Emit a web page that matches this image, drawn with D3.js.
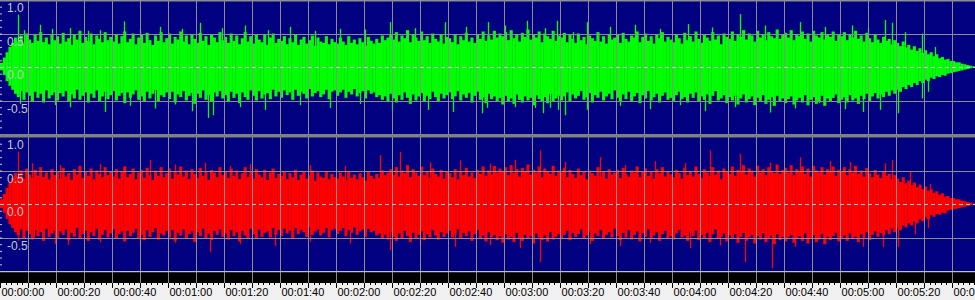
<!DOCTYPE html>
<html><head><meta charset="utf-8">
<script src="https://cdn.jsdelivr.net/npm/d3@7"></script>
<style>html,body{margin:0;padding:0;background:#f0f0f0;overflow:hidden}svg{display:block}</style>
</head><body><svg id="c" width="975" height="300"></svg>
<script>
// ---- data: per-second peak levels (percent of full scale), one value per second ----
const gMax=[6,14,22,30,36,44,38,47,35,50,41,36,48,39,52,37,44,34,49,40,
46,35,51,38,43,33,49,41,54,36,45,39,50,34,47,42,37,52,40,45,
38,49,35,46,53,37,42,50,34,44,48,36,51,40,33,47,39,52,37,43,
50,35,45,41,53,38,47,34,49,42,36,51,39,46,33,48,44,37,52,40,
45,36,50,39,47,34,43,52,38,46,35,49,41,37,48,33,44,50,36,42,
39,46,34,43,37,48,33,41,45,35,40,47,32,44,38,36,46,34,42,37,
35,44,38,33,46,36,41,34,43,37,32,45,39,35,42,36,47,40,44,49,
41,52,38,47,43,55,37,49,44,39,53,40,46,36,50,42,38,48,35,45,
43,37,49,34,46,40,51,38,44,36,48,42,53,39,47,41,54,44,50,46,
52,40,55,43,49,38,51,45,56,41,48,44,53,37,50,46,42,54,39,47,
44,51,37,48,42,36,50,40,45,34,47,43,39,52,38,46,35,49,41,44,
48,36,51,42,38,47,44,53,37,45,50,39,46,35,49,43,52,38,45,41,
37,48,43,35,51,40,46,38,53,42,36,49,44,39,52,41,47,34,50,45,
42,53,39,48,45,55,41,50,47,38,54,44,49,40,52,46,43,56,42,48,
51,44,55,40,49,46,53,42,50,38,54,47,44,52,41,49,45,53,39,48,
46,52,40,49,44,54,42,47,38,51,43,37,48,41,36,45,39,42,34,40,
36,31,38,29,33,26,31,24,28,21,25,19,22,16,19,13,15,11,12,9,
9,7,7,5,4,3,2,1];
const gMin=[-5,-12,-21,-28,-34,-40,-45,-36,-49,-38,-43,-51,-37,-46,-40,-53,-35,-47,-42,-38,
-50,-39,-44,-36,-52,-41,-47,-34,-49,-43,-38,-53,-40,-46,-35,-51,-44,-37,-48,-42,
-36,-50,-43,-39,-54,-38,-46,-41,-35,-49,-44,-52,-37,-47,-40,-34,-51,-42,-45,-38,
-48,-37,-53,-41,-45,-36,-50,-43,-39,-55,-40,-46,-35,-49,-42,-52,-38,-44,-36,-47,
-42,-51,-37,-46,-40,-54,-38,-45,-49,-35,-43,-50,-36,-47,-41,-39,-48,-34,-44,-37,
-46,-35,-42,-38,-49,-34,-43,-37,-40,-47,-33,-44,-39,-36,-45,-41,-34,-48,-37,-35,
-43,-38,-34,-46,-37,-41,-33,-44,-39,-36,-47,-35,-40,-38,-45,-42,-49,-44,-51,-40,
-47,-53,-42,-49,-38,-46,-55,-41,-50,-44,-39,-52,-43,-48,-37,-45,-51,-40,-47,-42,
-38,-48,-44,-36,-50,-41,-46,-39,-53,-43,-37,-49,-45,-54,-40,-48,-44,-52,-46,-56,
-43,-51,-47,-55,-41,-49,-53,-44,-50,-46,-57,-42,-48,-52,-45,-54,-40,-51,-47,-43,
-50,-44,-38,-52,-41,-47,-43,-36,-49,-45,-39,-53,-42,-46,-37,-50,-44,-40,-48,-35,
-46,-52,-41,-48,-37,-51,-44,-39,-54,-42,-47,-36,-50,-45,-40,-53,-43,-38,-49,-46,
-51,-42,-37,-48,-45,-53,-40,-46,-38,-52,-44,-49,-41,-55,-43,-36,-50,-47,-42,-54,
-45,-50,-43,-56,-47,-41,-53,-48,-44,-57,-46,-51,-42,-55,-49,-45,-58,-43,-52,-47,
-54,-48,-44,-56,-50,-46,-53,-42,-57,-49,-45,-55,-51,-43,-58,-47,-52,-46,-41,-54,
-49,-45,-53,-42,-50,-47,-55,-43,-48,-40,-52,-44,-39,-47,-41,-45,-37,-43,-35,-40,
-34,-37,-30,-33,-27,-30,-24,-27,-21,-24,-19,-21,-16,-18,-14,-15,-12,-13,-10,-9,
-8,-7,-6,-5,-4,-3,-2,-1];
const rMax=[7,15,24,32,39,46,40,50,38,53,44,39,51,42,55,40,47,37,52,43,
49,38,54,41,46,36,52,44,57,39,48,42,53,37,50,45,40,55,43,48,
41,52,38,49,56,40,45,53,37,47,51,39,54,43,36,50,42,55,40,46,
53,38,48,44,56,41,50,37,52,45,39,54,42,49,36,51,47,40,55,43,
48,39,53,42,50,37,46,55,41,49,38,52,44,40,51,36,47,53,39,45,
42,49,37,46,40,51,36,44,48,38,43,50,35,47,41,39,49,37,45,40,
38,47,41,36,49,39,44,37,46,40,35,48,42,38,45,39,50,43,47,52,
44,55,41,50,46,58,40,52,47,42,56,43,49,39,53,45,41,51,38,48,
46,40,52,37,49,43,54,41,47,39,51,45,56,42,50,44,57,47,53,49,
55,43,58,46,52,41,54,48,59,44,51,47,56,40,53,49,45,57,42,50,
47,54,40,51,45,39,53,43,48,37,50,46,42,55,41,49,38,52,44,47,
51,39,54,45,41,50,47,56,40,48,53,42,49,38,52,46,55,41,48,44,
40,51,46,38,54,43,49,41,56,45,39,52,47,42,55,44,50,37,53,48,
45,56,42,51,48,58,44,53,50,41,57,47,52,43,55,49,46,59,45,51,
54,47,58,43,52,49,56,45,53,41,57,50,47,55,44,52,48,56,42,51,
49,55,43,52,47,57,45,50,41,54,46,40,51,44,39,48,42,45,37,43,
38,33,40,31,35,28,32,25,29,22,26,20,22,17,19,14,16,11,12,9,
9,7,7,5,4,3,2,1];
const rMin=[-6,-13,-22,-30,-36,-42,-47,-38,-51,-40,-45,-53,-39,-48,-42,-55,-37,-49,-44,-40,
-52,-41,-46,-38,-54,-43,-49,-36,-51,-45,-40,-55,-42,-48,-37,-53,-46,-39,-50,-44,
-38,-52,-45,-41,-56,-40,-48,-43,-37,-51,-46,-54,-39,-49,-42,-36,-53,-44,-47,-40,
-50,-39,-55,-43,-47,-38,-52,-45,-41,-57,-42,-48,-37,-51,-44,-54,-40,-46,-38,-49,
-44,-53,-39,-48,-42,-56,-40,-47,-51,-37,-45,-52,-38,-49,-43,-41,-50,-36,-46,-39,
-48,-37,-44,-40,-51,-36,-45,-39,-42,-49,-35,-46,-41,-38,-47,-43,-36,-50,-39,-37,
-45,-40,-36,-48,-39,-43,-35,-46,-41,-38,-49,-37,-42,-40,-47,-44,-51,-46,-53,-42,
-49,-55,-44,-51,-40,-48,-57,-43,-52,-46,-41,-54,-45,-50,-39,-47,-53,-42,-49,-44,
-40,-50,-46,-38,-52,-43,-48,-41,-55,-45,-39,-51,-47,-56,-42,-50,-46,-54,-48,-58,
-45,-53,-49,-57,-43,-51,-55,-46,-52,-48,-59,-44,-50,-54,-47,-56,-42,-53,-49,-45,
-52,-46,-40,-54,-43,-49,-45,-38,-51,-47,-41,-55,-44,-48,-39,-52,-46,-42,-50,-37,
-48,-54,-43,-50,-39,-53,-46,-41,-56,-44,-49,-38,-52,-47,-42,-55,-45,-40,-51,-48,
-53,-44,-39,-50,-47,-55,-42,-48,-40,-54,-46,-51,-43,-57,-45,-38,-52,-49,-44,-56,
-47,-52,-45,-58,-49,-43,-55,-50,-46,-59,-48,-53,-44,-57,-51,-47,-60,-45,-54,-49,
-56,-50,-46,-58,-52,-48,-55,-44,-59,-51,-47,-57,-53,-45,-60,-49,-54,-48,-43,-56,
-51,-47,-55,-44,-52,-49,-57,-45,-50,-42,-54,-46,-41,-49,-43,-47,-39,-45,-37,-42,
-36,-39,-32,-35,-29,-32,-26,-29,-23,-26,-20,-23,-17,-19,-15,-16,-13,-14,-10,-9,
-8,-7,-6,-5,-4,-3,-2,-1];
// ---- isolated peaks: [seconds, level %] ----
const gTopSpikes=[[6.4,78],[8.6,55],[14.3,63],[18.6,57],[25,58],[31.4,54],[35.7,55],[44.3,68],[50,56],[57.1,60],[65,57],[71.4,66],[79.3,58],[87.5,62],[95.7,55],[103.6,60],[112.5,54],[121.4,57],[130.4,56],[139.3,67],[148.2,58],[158.9,67],[166.4,60],[174.3,67],[180.4,62],[188.2,69],[194.6,58],[198.9,69],[204.6,52],[209.6,67],[217.9,60],[226.8,63],[235.7,57],[245.7,64],[254.3,59],[264.3,79],[273.2,62],[285.7,67],[294.6,60],[304.3,62],[310,58],[316.1,70],[318.6,66],[323.2,52],[329.3,50],[333.9,30]];
const gBotSpikes=[[7.1,-55],[19.6,-57],[25,-60],[37.5,-67],[46.4,-58],[55.4,-62],[62.5,-56],[68.6,-66],[74.3,-76],[76.1,-72],[85.7,-60],[94.6,-64],[107.1,-57],[117.9,-61],[128.6,-55],[140,-65],[152.9,-64],[161.8,-67],[172.1,-69],[173.9,-61],[183.9,-60],[191.1,-61],[193.9,-69],[196.4,-61],[199.3,-64],[201.8,-72],[209.6,-64],[221.4,-58],[232.1,-63],[242.9,-57],[251.8,-66],[262.5,-60],[275,-68],[283.9,-62],[292.5,-54],[301.8,-63],[308.2,-67],[314.3,-64],[320.7,-69],[329.3,-47],[331.4,-37]];
const rTopSpikes=[[6.4,78],[11.4,61],[21.4,58],[35.7,60],[44.6,57],[53.6,66],[62.5,59],[73.2,62],[82.1,57],[89.3,60],[100,56],[110.7,58],[123.2,57],[135.7,73],[142.9,78],[153.6,62],[164.3,65],[175,60],[183.9,66],[192.9,80],[201.8,63],[214.3,70],[223.2,58],[233.9,64],[244.6,61],[253.6,80],[264.3,75],[275,62],[285.7,70],[296.4,64],[303.6,63],[316.1,61],[318.6,66],[325,48],[332.1,30]];
const rBotSpikes=[[6.4,-55],[12.1,-50],[19.6,-60],[24.3,-61],[35.7,-57],[50,-62],[62.5,-58],[75,-72],[85.7,-60],[98.2,-63],[110.7,-56],[125,-59],[139.3,-69],[150,-61],[162.5,-64],[175,-62],[185.7,-66],[192.9,-87],[200,-65],[210.7,-60],[221.4,-63],[232.1,-58],[246.4,-66],[257.1,-62],[266.1,-87],[275.7,-96],[283.9,-64],[294.6,-60],[308.2,-64],[315.4,-64],[320.7,-64],[326.8,-45],[331.4,-36]];
const ampLabels=[100,50,0,-50];
const gridSeconds=d3.range(10,341,10);
const labelSeconds=d3.range(0,341,20);
const minorSeconds=d3.range(0,349,2);

// ---- drawing ----
const W=975;
const svg=d3.select("#c");
const x=d3.scaleLinear().domain([0,348.2]).range([0,W]);
const panels=[
  {y:d3.scaleLinear().domain([-100,100]).range([134,0]),max:gMax,min:gMin,spikes:gTopSpikes.concat(gBotSpikes),color:"#00ff00"},
  {y:d3.scaleLinear().domain([-100,100]).range([271,137]),max:rMax,min:rMin,spikes:rTopSpikes.concat(rBotSpikes),color:"#ff0000"}
];
const GRID="#8c8c8c", LBL="#c8c8c8";
svg.append("rect").attr("x",0).attr("y",0).attr("width",W).attr("height",272).attr("fill","#000080");

panels.forEach(p=>{
  const g=svg.append("g");
  const bins=p.max.map((v,i)=>({t:i,hi:v,lo:p.min[i]}));
  g.selectAll("rect.bin").data(bins).join("rect").attr("class","bin")
    .attr("x",d=>x(d.t)).attr("width",d=>x(d.t+1)-x(d.t)+0.3)
    .attr("y",d=>p.y(d.hi)).attr("height",d=>p.y(d.lo)-p.y(d.hi))
    .attr("fill",p.color);
  g.selectAll("line.spk").data(p.spikes).join("line").attr("class","spk")
    .attr("x1",d=>Math.round(x(d[0]))+0.5).attr("x2",d=>Math.round(x(d[0]))+0.5)
    .attr("y1",p.y(0)).attr("y2",d=>p.y(d[1]))
    .attr("stroke",p.color).attr("stroke-width",1.3);
});

// vertical grid (runs through black strip)
svg.append("g").selectAll("line").data(gridSeconds).join("line")
  .attr("x1",d=>Math.round(x(d))+0.5).attr("x2",d=>Math.round(x(d))+0.5)
  .attr("y1",0).attr("y2",283).attr("stroke",GRID);

panels.forEach(p=>{
  const g=svg.append("g");
  g.selectAll("line.h").data([50,-50]).join("line").attr("class","h")
    .attr("x1",0).attr("x2",W).attr("y1",d=>Math.round(p.y(d))+0.5).attr("y2",d=>Math.round(p.y(d))+0.5)
    .attr("stroke",GRID);
  g.append("line").attr("x1",0).attr("x2",W)
    .attr("y1",Math.round(p.y(0))+0.5).attr("y2",Math.round(p.y(0))+0.5)
    .attr("stroke","#c8c8c8").attr("stroke-dasharray","4,3");
  const ax=d3.axisRight(p.y).tickValues(d3.range(-90,100,10)).tickSize(2).tickFormat("");
  const a=g.append("g").call(ax);
  a.select(".domain").remove();
  a.selectAll(".tick line").attr("stroke",LBL);
  a.selectAll(".tick text").remove();
  g.append("g").selectAll("text.lbl").data(ampLabels).join("text").attr("class","lbl")
    .attr("x",7).attr("y",d=>p.y(d)+12)
    .attr("fill",LBL).attr("font-family","'Liberation Sans',Arial,sans-serif").attr("font-size",12)
    .text(d=>(d/100).toFixed(1));
});

// borders / separator
svg.append("rect").attr("x",0).attr("y",0).attr("width",W).attr("height",1.5).attr("fill",GRID);
svg.append("rect").attr("x",0).attr("y",134).attr("width",W).attr("height",3.5).attr("fill","#808080");
svg.append("rect").attr("x",0).attr("y",271).attr("width",W).attr("height",1.2).attr("fill","#c0c0c0");
svg.append("rect").attr("x",0).attr("y",272.2).attr("width",W).attr("height",10.8).attr("fill","#000");
svg.append("g").selectAll("line").data(gridSeconds).join("line")
  .attr("x1",d=>Math.round(x(d))+0.5).attr("x2",d=>Math.round(x(d))+0.5)
  .attr("y1",272).attr("y2",283).attr("stroke",GRID);

// time ruler
svg.append("rect").attr("x",0).attr("y",283).attr("width",W).attr("height",17).attr("fill","#f0f0f0");
svg.append("g").selectAll("line").data(minorSeconds).join("line")
  .attr("x1",d=>Math.round(x(d))+0.5).attr("x2",d=>Math.round(x(d))+0.5)
  .attr("y1",283).attr("y2",d=>d%10===0?288:285).attr("stroke","#000");
const fmt=d3.utcFormat("%H:%M:%S");
svg.append("g").selectAll("text").data(labelSeconds).join("text")
  .attr("x",d=>x(d)+1.5).attr("y",295.5)
  .attr("font-family","'Liberation Sans',Arial,sans-serif").attr("font-size",11).attr("fill","#000")
  .text(d=>fmt(new Date(d*1000)));
</script></body></html>
